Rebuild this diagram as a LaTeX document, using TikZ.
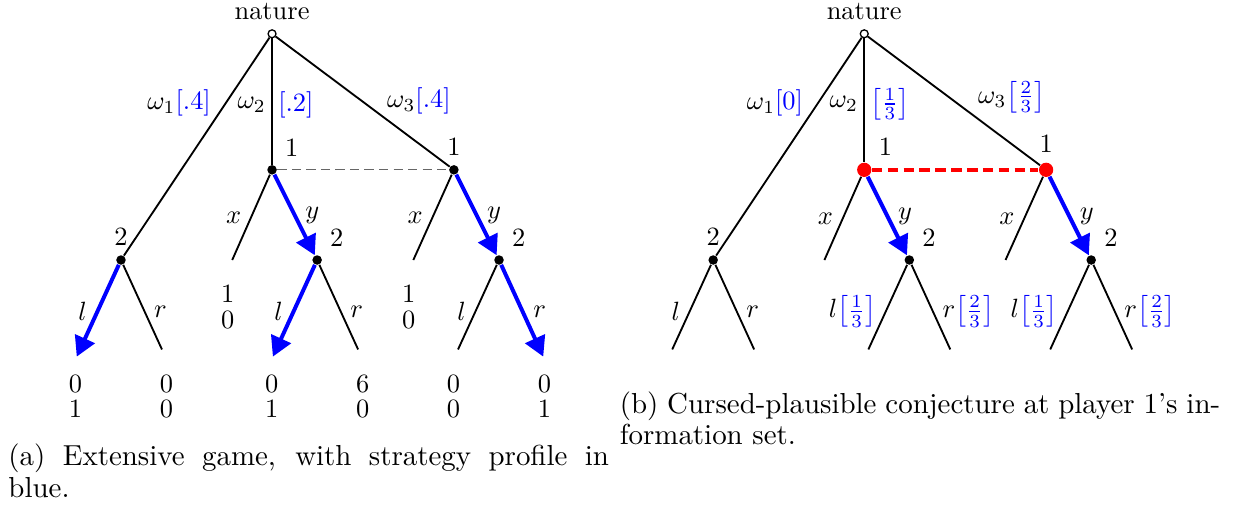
\documentclass[tikz,border=0pt]{standalone}
\usepackage{amsmath}
\usepackage{amssymb}
\usepackage{tikz}
\usetikzlibrary{positioning}
\usetikzlibrary{arrows.meta}

\tikzset{
  chance/.style={circle, draw, fill=white, line width=0.5pt, inner sep=0pt, minimum size=3pt},
  decnode/.style={circle, fill=black, inner sep=0pt, minimum size=3.6pt},
  infonode/.style={circle, fill=red, inner sep=0pt, minimum size=5.4pt},
  branch/.style={line width=0.7pt},
  chosen/.style={draw=blue, line width=1.5pt, -{Triangle[length=7.5pt,width=8pt]}},
  payoff/.style={align=center, inner sep=0pt},
  captext/.style={text width=7.99cm, align=justify, inner sep=0pt, anchor=base west,
    font=\fontsize{10.95}{12}\selectfont}
}

\begin{document}
\begin{tikzpicture}
		\useasboundingbox (0,0) rectangle (16.5,-6.813);
		%Game (a): extensive game with strategy profile
		\begin{scope}[shift={(3.62,-0.45)}]
		\node[chance, label={[label distance=2.4pt, inner sep=1pt]above:nature}] (a-nat) at (0,0) {};
		\node[decnode, label=above:2] (a-w1) at (-2.01,-3.01) {};
		\node[decnode, label=above right:1] (a-w2) at (0,-1.81) {};
		\node[decnode, label=above:1] (a-w3) at (2.42,-1.81) {};
		\node[decnode, label=above right:2] (a-w2y) at (0.60,-3.01) {};
		\node[decnode, label=above right:2] (a-w3y) at (3.02,-3.01) {};
		\coordinate (a-w2x) at (-0.53,-3.01);
		\coordinate (a-w3x) at (1.88,-3.01);
		\coordinate (a-w1l) at (-2.555,-4.20);
		\coordinate (a-w1r) at (-1.465,-4.20);
		\coordinate (a-w2l) at (0.055,-4.20);
		\coordinate (a-w2r) at (1.145,-4.20);
		\coordinate (a-w3l) at (2.475,-4.20);
		\coordinate (a-w3r) at (3.565,-4.20);
		%Moves of nature
		\draw[branch] (a-nat) -- node[pos=0.3, left=2pt] {$\omega_1\textcolor{blue}{[.4]}$} (a-w1);
		\draw[branch] (a-nat) -- node[pos=0.53, left, inner sep=2pt] {$\omega_2$} node[pos=0.53, right, inner sep=2pt] {$\textcolor{blue}{[.2]}$} (a-w2);
		\draw[branch] (a-nat) -- node[pos=0.62, above right, inner sep=1pt] {$\omega_3\textcolor{blue}{[.4]}$} (a-w3);
		\draw[black!60, dash pattern=on 3.5pt off 2pt] (a-w2) -- (a-w3);
		%Moves of player 1 and 2
		\draw[branch] (a-w2) -- node[left] {$x$} (a-w2x);
		\draw[chosen] (a-w2) -- node[right] {$y$} (a-w2y);
		\draw[branch] (a-w3) -- node[left] {$x$} (a-w3x);
		\draw[chosen] (a-w3) -- node[right] {$y$} (a-w3y);
		\draw[chosen, shorten >=-3pt] (a-w1) -- node[pos=0.55, left] {$l$} (a-w1l);
		\draw[branch] (a-w1) -- node[pos=0.55, right] {$r$} (a-w1r);
		\draw[chosen, shorten >=-3pt] (a-w2y) -- node[pos=0.55, left] {$l$} (a-w2l);
		\draw[branch] (a-w2y) -- node[pos=0.55, right] {$r$} (a-w2r);
		\draw[branch] (a-w3y) -- node[pos=0.55, left] {$l$} (a-w3l);
		\draw[chosen, shorten >=-3pt] (a-w3y) -- node[pos=0.55, right] {$r$} (a-w3r);
		%Payoffs
		\node[payoff, below=0.33cm of a-w1l, xshift=-0.06cm] (a-p1) {0\\[-2.5pt]1};
		\node[payoff, below=0.33cm of a-w1r, xshift=0.06cm] (a-p2) {0\\[-2.5pt]0};
		\node[payoff, below=0.33cm of a-w2x, xshift=-0.06cm] (a-p3) {1\\[-2.5pt]0};
		\node[payoff, below=0.33cm of a-w2l, xshift=-0.06cm] (a-p4) {0\\[-2.5pt]1};
		\node[payoff, below=0.33cm of a-w2r, xshift=0.06cm] (a-p5) {6\\[-2.5pt]0};
		\node[payoff, below=0.33cm of a-w3x, xshift=-0.06cm] (a-p6) {1\\[-2.5pt]0};
		\node[payoff, below=0.33cm of a-w3l, xshift=-0.06cm] (a-p7) {0\\[-2.5pt]0};
		\node[payoff, below=0.33cm of a-w3r, xshift=0.06cm] (a-p8) {0\\[-2.5pt]1};
		\end{scope}
		%Game (b): cursed-plausible conjecture
		\begin{scope}[shift={(11.50,-0.45)}]
		\node[chance, label={[label distance=2.4pt, inner sep=1pt]above:nature}] (b-nat) at (0,0) {};
		\node[decnode, label=above:2] (b-w1) at (-2.01,-3.01) {};
		\node[infonode, label=above right:1] (b-w2) at (0,-1.81) {};
		\node[infonode, label=above:1] (b-w3) at (2.42,-1.81) {};
		\node[decnode, label=above right:2] (b-w2y) at (0.60,-3.01) {};
		\node[decnode, label=above right:2] (b-w3y) at (3.02,-3.01) {};
		\coordinate (b-w2x) at (-0.53,-3.01);
		\coordinate (b-w3x) at (1.88,-3.01);
		\coordinate (b-w1l) at (-2.555,-4.20);
		\coordinate (b-w1r) at (-1.465,-4.20);
		\coordinate (b-w2l) at (0.055,-4.20);
		\coordinate (b-w2r) at (1.145,-4.20);
		\coordinate (b-w3l) at (2.475,-4.20);
		\coordinate (b-w3r) at (3.565,-4.20);
		%Moves of nature
		\draw[branch] (b-nat) -- node[pos=0.3, left=2pt] {$\omega_1\textcolor{blue}{\left[0\right]}$} (b-w1);
		\draw[branch] (b-nat) -- node[pos=0.53, left, inner sep=2pt] {$\omega_2$} node[pos=0.53, right, inner sep=2pt] {$\textcolor{blue}{\left[\frac{1}{3}\right]}$} (b-w2);
		\draw[branch] (b-nat) -- node[pos=0.62, above right, inner sep=1pt] {$\omega_3\textcolor{blue}{\left[\frac{2}{3}\right]}$} (b-w3);
		\draw[red, line width=1.5pt, dash pattern=on 4pt off 2pt] (b-w2) -- (b-w3);
		%Moves of player 1 and 2
		\draw[branch] (b-w2) -- node[left] {$x$} (b-w2x);
		\draw[chosen] (b-w2) -- node[right] {$y$} (b-w2y);
		\draw[branch] (b-w3) -- node[left] {$x$} (b-w3x);
		\draw[chosen] (b-w3) -- node[right] {$y$} (b-w3y);
		\draw[branch] (b-w1) -- node[pos=0.55, left] {$l$} (b-w1l);
		\draw[branch] (b-w1) -- node[pos=0.55, right] {$r$} (b-w1r);
		\draw[branch] (b-w2y) -- node[pos=0.55, left] {$l\textcolor{blue}{\left[\frac{1}{3}\right]}$} (b-w2l);
		\draw[branch] (b-w2y) -- node[pos=0.55, right] {$r\textcolor{blue}{\left[\frac{2}{3}\right]}$} (b-w2r);
		\draw[branch] (b-w3y) -- node[pos=0.55, left] {$l\textcolor{blue}{\left[\frac{1}{3}\right]}$} (b-w3l);
		\draw[branch] (b-w3y) -- node[pos=0.55, right] {$r\textcolor{blue}{\left[\frac{2}{3}\right]}$} (b-w3r);
		\end{scope}
		%Captions
		\node[captext] (cap-a) at (0.106,-6.20) {(a) Extensive game, with strategy profile in blue.};
		\node[captext] (cap-b) at (8.24,-5.496) {(b) Cursed-plausible conjecture at player 1's in\-formation set.};
\end{tikzpicture}
\end{document}
